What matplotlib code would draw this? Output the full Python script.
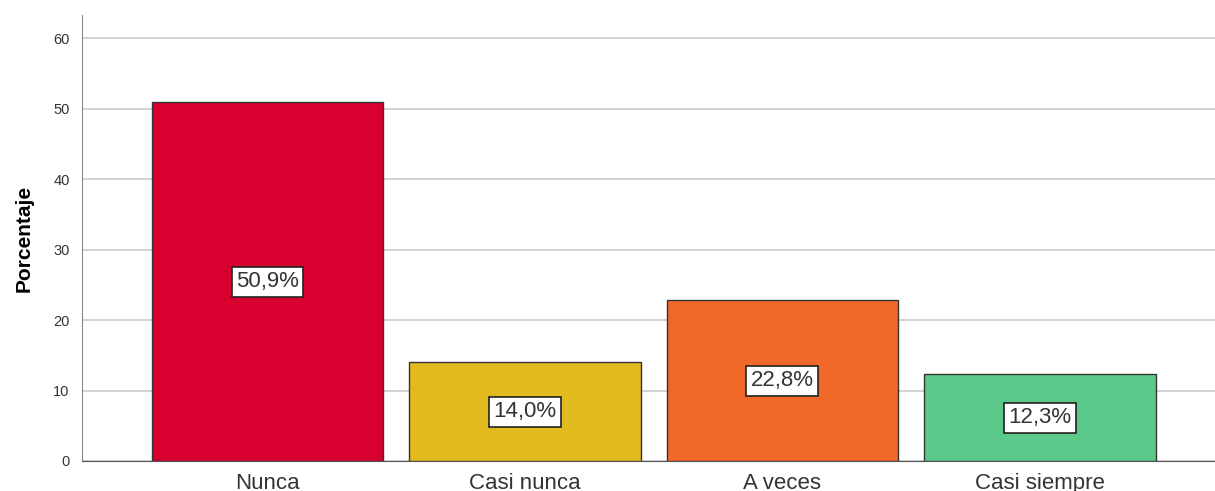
import matplotlib.pyplot as plt

plt.rcParams["font.family"] = ["Liberation Sans", "DejaVu Sans"]

# Données
categorias = ["Nunca", "Casi nunca", "A veces", "Casi siempre"]
porcentajes = [50.9, 14.0, 22.8, 12.3]
colores = ["#D7002F", "#E0BA1E", "#F1682B", "#5BC98A"]
etiquetas = ["50,9%", "14,0%", "22,8%", "12,3%"]
ticks_y = [0, 10, 20, 30, 40, 50, 60]

fig = plt.figure(figsize=(12.15, 4.91), dpi=100)
ax = fig.add_axes([0.0675, 0.0611, 0.9325, 0.9084])

x = range(len(categorias))
ax.bar(x, porcentajes, width=0.9, color=colores, edgecolor="#333333", linewidth=1.0, zorder=3)

# Etiquetas de valor al centro de cada barra
for i in x:
    ax.text(i, porcentajes[i] / 2, etiquetas[i], ha="center", va="center", fontsize=16,
            color="#333333", zorder=4,
            bbox=dict(boxstyle="square,pad=0.2", facecolor="white", edgecolor="#222222", linewidth=1.2))

ax.set_xlim(-0.72, 3.68)
ax.set_ylim(0, 63.3)
ax.set_yticks(ticks_y)
ax.set_xticks(list(x))
ax.set_xticklabels(categorias, fontsize=16, color="#333333")
ax.tick_params(axis="x", length=0, pad=9)
ax.tick_params(axis="y", length=0, labelsize=10.5, labelcolor="#333333", pad=9)
ax.set_ylabel("Porcentaje", fontsize=15, fontweight="bold", labelpad=14)

ax.grid(axis="y", color="#CFCFCF", linewidth=1.3, zorder=0)
ax.spines["top"].set_visible(False)
ax.spines["right"].set_visible(False)
ax.spines["left"].set_color("#888888")
ax.spines["bottom"].set_color("#555555")

plt.savefig("out.png", dpi=100)
